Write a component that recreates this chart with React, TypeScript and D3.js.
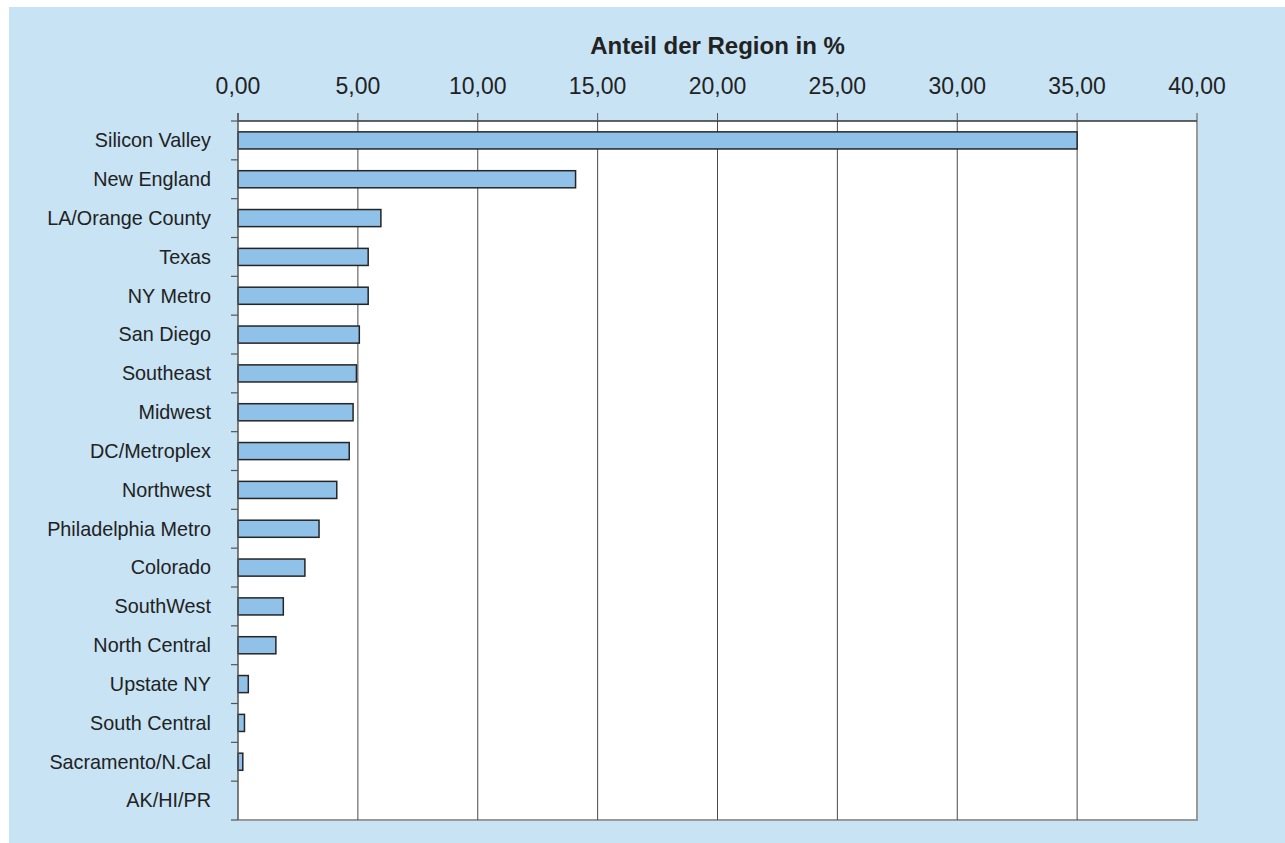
import React from "react";
import * as d3 from "d3";

const regions = [
  "Silicon Valley",
  "New England",
  "LA/Orange County",
  "Texas",
  "NY Metro",
  "San Diego",
  "Southeast",
  "Midwest",
  "DC/Metroplex",
  "Northwest",
  "Philadelphia Metro",
  "Colorado",
  "SouthWest",
  "North Central",
  "Upstate NY",
  "South Central",
  "Sacramento/N.Cal",
  "AK/HI/PR",
];
const shares = [35.0, 14.08, 5.96, 5.43, 5.43, 5.06, 4.94, 4.8, 4.64, 4.12, 3.38, 2.79, 1.89, 1.58, 0.43, 0.27, 0.2, 0.0];
const xTicks = [0, 5, 10, 15, 20, 25, 30, 35, 40];
const title = "Anteil der Region in %";

const W = 1285;
const H = 843;
const plot = { left: 238, right: 1197, top: 121, bottom: 820 };
const FONT = "'Liberation Sans', Arial, Helvetica, sans-serif";

export default function App() {
  const x = d3.scaleLinear().domain([0, 40]).range([plot.left, plot.right]);
  const y = d3
    .scaleBand<string>()
    .domain(regions)
    .range([plot.top, plot.bottom])
    .paddingInner(0.56)
    .paddingOuter(0.28);
  const step = y.step();
  const fmt = (v: number) => d3.format(".2f")(v).replace(".", ",");
  const boundaries = d3.range(regions.length + 1).map((i) => plot.top + i * step);

  return (
    <svg
      width={W}
      height={H}
      style={{ position: "absolute", left: 0, top: 0, display: "block" }}
      fontFamily={FONT}
    >
      <rect x={0} y={0} width={W} height={H} fill="#ffffff" />
      <rect x={9} y={7} width={W - 9} height={H - 7} fill="#c7e3f4" />
      <rect
        x={plot.left}
        y={plot.top}
        width={plot.right - plot.left}
        height={plot.bottom - plot.top}
        fill="#ffffff"
      />
      {/* right & bottom border */}
      <line x1={plot.right} x2={plot.right} y1={plot.top} y2={plot.bottom + 1} stroke="#9a9a9a" strokeWidth={2} />
      <line x1={plot.left} x2={plot.right + 1} y1={plot.bottom} y2={plot.bottom} stroke="#9a9a9a" strokeWidth={2} />
      {/* gridlines */}
      {xTicks
        .filter((t) => t > 0 && t < 40)
        .map((t) => (
          <line key={"g" + t} x1={x(t)} x2={x(t)} y1={plot.top} y2={plot.bottom} stroke="#4a4a4a" strokeWidth={1} />
        ))}
      {/* top border */}
      <line x1={plot.left} x2={plot.right} y1={plot.top} y2={plot.top} stroke="#333333" strokeWidth={1.5} />
      {/* top ticks */}
      {xTicks.map((t) => (
        <line key={"t" + t} x1={x(t)} x2={x(t)} y1={plot.top - 8} y2={plot.top} stroke="#555555" strokeWidth={1} />
      ))}
      {/* left ticks */}
      {boundaries.map((b, i) => (
        <line key={"l" + i} x1={plot.left - 7} x2={plot.left} y1={b} y2={b} stroke="#555555" strokeWidth={1.2} />
      ))}
      {/* bars */}
      {regions.map((r, i) =>
        shares[i] > 0 ? (
          <rect
            key={"b" + r}
            x={x(0)}
            y={y(r)}
            width={x(shares[i]) - x(0)}
            height={y.bandwidth()}
            fill="#8fc1e9"
            stroke="#252525"
            strokeWidth={1.5}
          />
        ) : null
      )}
      {/* left axis line */}
      <line x1={plot.left} x2={plot.left} y1={plot.top - 8} y2={plot.bottom} stroke="#555555" strokeWidth={1.5} />
      {/* tick labels */}
      {xTicks.map((t) => (
        <text key={"tl" + t} x={x(t)} y={93.5} textAnchor="middle" fontSize={23} fill="#222222">
          {fmt(t)}
        </text>
      ))}
      {/* category labels */}
      {regions.map((r) => (
        <text
          key={"cl" + r}
          x={211}
          y={(y(r) as number) + y.bandwidth() / 2 + 6.8}
          textAnchor="end"
          fontSize={19.8}
          fill="#222222"
        >
          {r}
        </text>
      ))}
      <text x={(plot.left + plot.right) / 2} y={54} textAnchor="middle" fontSize={24} fontWeight="bold" fill="#222222">
        {title}
      </text>
    </svg>
  );
}
